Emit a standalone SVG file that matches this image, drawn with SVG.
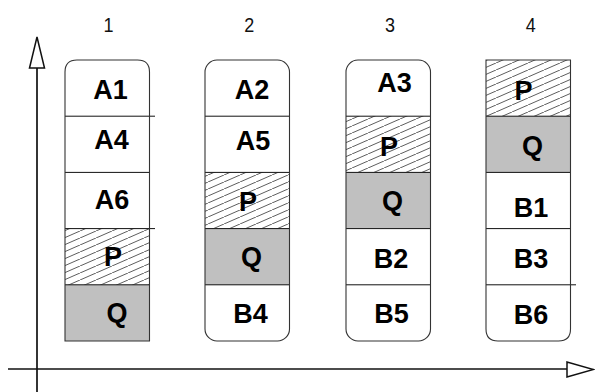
<svg xmlns="http://www.w3.org/2000/svg" width="595" height="392" viewBox="0 0 595 392">
  <style>
    .outline { fill: none; stroke: #333; stroke-width: 1.1; }
    .base { fill: #fff; stroke: none; }
    .div { stroke: #111; stroke-width: 1; }
    .gray { fill: #c0c0c0; }
    .hatch { fill: url(#hatch); }
    .lbl { font-family: "Liberation Sans", Arial, sans-serif; font-weight: bold; font-size: 27px; text-anchor: middle; fill: #000; }
    .num { font-family: "Liberation Sans", Arial, sans-serif; font-size: 20.5px; text-anchor: middle; fill: #111; }
    .axis { stroke: #111; stroke-width: 1.7; fill: none; }
    .head { stroke: #111; stroke-width: 1.5; fill: #fff; stroke-linejoin: miter; }
  </style>
  <defs>
    <pattern id="hatch" patternUnits="userSpaceOnUse" width="16" height="7">
      <rect width="16" height="7" fill="#fff"/>
      <line x1="-2" y1="7.9" x2="18" y2="-0.9" stroke="#333" stroke-width="0.8"/>
    </pattern>
  </defs>

  <!-- column numbers -->
  <g id="numbers">
    <text class="num" x="108.5" y="32" textLength="10" lengthAdjust="spacingAndGlyphs">1</text>
    <text class="num" x="249.3" y="32" textLength="10" lengthAdjust="spacingAndGlyphs">2</text>
    <text class="num" x="390" y="32" textLength="10" lengthAdjust="spacingAndGlyphs">3</text>
    <text class="num" x="530.7" y="32" textLength="10" lengthAdjust="spacingAndGlyphs">4</text>
  </g>

  <!-- axes -->
  <g id="connectors">
    <line class="axis" x1="37" y1="68" x2="37" y2="392"/>
    <polygon class="head" points="37,37 29.5,68 44.5,68"/>
    <line class="axis" x1="8" y1="369" x2="567" y2="369"/>
    <polygon class="head" points="567,362 567,377 593.5,369.5"/>
  </g>

  <!-- column 1: rounded top, square bottom -->
  <g id="col1">
    <path class="base" d="M65,72 Q65,60 77,60 H137.5 Q149.5,60 149.5,72 V341 H65 Z"/>
    <rect class="hatch" x="65" y="228.6" width="84.5" height="56.2"/>
    <rect class="gray" x="65" y="284.8" width="84.5" height="56.2"/>
    <line class="div" x1="65" y1="116.2" x2="155" y2="116.2"/>
    <line class="div" x1="65" y1="172.4" x2="149.5" y2="172.4"/>
    <line class="div" x1="65" y1="228.6" x2="155" y2="228.6"/>
    <line class="div" x1="65" y1="284.8" x2="149.5" y2="284.8"/>
    <path class="outline" d="M65,72 Q65,60 77,60 H137.5 Q149.5,60 149.5,72 V341 H65 Z"/>
    <text class="lbl" x="110.5" y="99">A1</text>
    <text class="lbl" x="111.5" y="149">A4</text>
    <text class="lbl" x="112" y="209">A6</text>
    <text class="lbl" x="113" y="266">P</text>
    <text class="lbl" x="117" y="322">Q</text>
  </g>

  <!-- column 2: rounded top and bottom -->
  <g id="col2">
    <rect class="base" x="205" y="60" width="84.5" height="281" rx="12"/>
    <rect class="hatch" x="205" y="172.4" width="84.5" height="56.2"/>
    <rect class="gray" x="205" y="228.6" width="84.5" height="56.2"/>
    <line class="div" x1="205" y1="116.2" x2="289.5" y2="116.2"/>
    <line class="div" x1="205" y1="172.4" x2="289.5" y2="172.4"/>
    <line class="div" x1="205" y1="228.6" x2="289.5" y2="228.6"/>
    <line class="div" x1="205" y1="284.8" x2="289.5" y2="284.8"/>
    <rect class="outline" x="205" y="60" width="84.5" height="281" rx="12"/>
    <text class="lbl" x="252" y="99">A2</text>
    <text class="lbl" x="253" y="150">A5</text>
    <text class="lbl" x="248" y="211">P</text>
    <text class="lbl" x="251.5" y="266">Q</text>
    <text class="lbl" x="250.5" y="323">B4</text>
  </g>

  <!-- column 3: rounded top and bottom -->
  <g id="col3">
    <rect class="base" x="346" y="60" width="84.5" height="281" rx="12"/>
    <rect class="hatch" x="346" y="116.2" width="84.5" height="56.2"/>
    <rect class="gray" x="346" y="172.4" width="84.5" height="56.2"/>
    <line class="div" x1="346" y1="116.2" x2="430.5" y2="116.2"/>
    <line class="div" x1="346" y1="172.4" x2="430.5" y2="172.4"/>
    <line class="div" x1="346" y1="228.6" x2="430.5" y2="228.6"/>
    <line class="div" x1="346" y1="284.8" x2="430.5" y2="284.8"/>
    <rect class="outline" x="346" y="60" width="84.5" height="281" rx="12"/>
    <text class="lbl" x="394.5" y="92">A3</text>
    <text class="lbl" x="389" y="156">P</text>
    <text class="lbl" x="392.5" y="210">Q</text>
    <text class="lbl" x="391" y="268">B2</text>
    <text class="lbl" x="391.5" y="323">B5</text>
  </g>

  <!-- column 4: square top, rounded bottom -->
  <g id="col4">
    <path class="base" d="M486,60 H570.5 V329 Q570.5,341 558.5,341 H498 Q486,341 486,329 Z"/>
    <rect class="hatch" x="486" y="60" width="84.5" height="56.2"/>
    <rect class="gray" x="486" y="116.2" width="84.5" height="56.2"/>
    <line class="div" x1="486" y1="116.2" x2="570.5" y2="116.2"/>
    <line class="div" x1="486" y1="172.4" x2="570.5" y2="172.4"/>
    <line class="div" x1="486" y1="228.6" x2="570.5" y2="228.6"/>
    <line class="div" x1="486" y1="284.8" x2="576" y2="284.8"/>
    <path class="outline" d="M486,60 H570.5 V329 Q570.5,341 558.5,341 H498 Q486,341 486,329 Z"/>
    <text class="lbl" x="523.5" y="100">P</text>
    <text class="lbl" x="532.5" y="155">Q</text>
    <text class="lbl" x="531" y="217">B1</text>
    <text class="lbl" x="531" y="268">B3</text>
    <text class="lbl" x="531" y="323.5">B6</text>
  </g>
</svg>
